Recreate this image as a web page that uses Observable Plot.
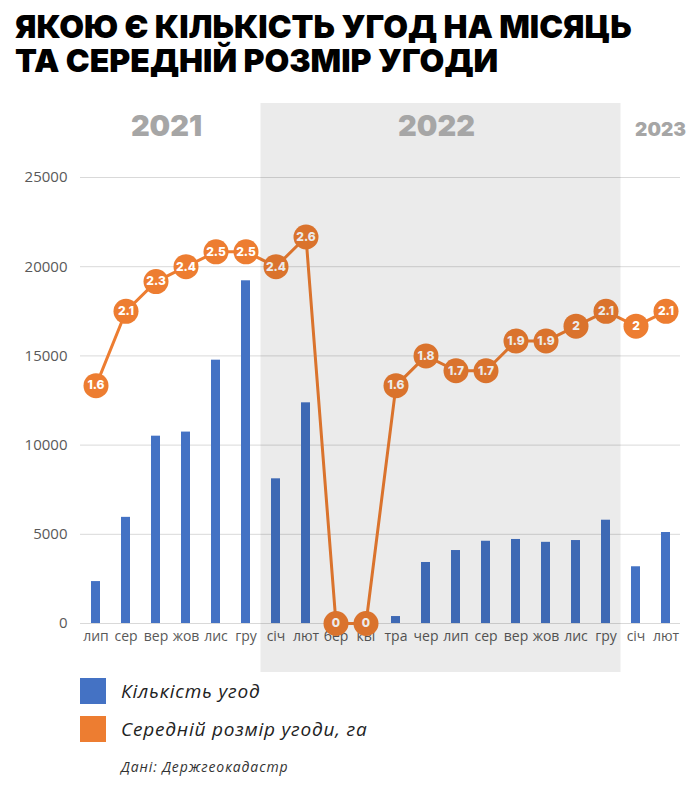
<!DOCTYPE html>
<html>
<head>
<meta charset="utf-8">
<script src="https://cdn.jsdelivr.net/npm/d3@7"></script>
<script src="https://cdn.jsdelivr.net/npm/@observablehq/plot@0.6"></script>
<style>
  body { margin: 0; background: #fff; width: 700px; height: 812px; position: relative; overflow: hidden; font-family: "Open Sans", sans-serif; }
  #title { position: absolute; left: 15px; top: 10px; margin: 0; font-family: Inter, sans-serif; font-weight: 900; font-size: 32px; line-height: 34px; color: #000; white-space: nowrap; }
  #chart { position: absolute; left: 0; top: 95px; }
  .key { position: absolute; left: 80px; display: flex; align-items: center; }
  .swatch { width: 26px; height: 26px; margin-right: 15px; }
  .key span { font-style: italic; font-size: 19px; letter-spacing: 0.8px; color: #222; }
  #source { position: absolute; left: 121px; top: 757px; font-style: italic; font-size: 14px; letter-spacing: 0.9px; color: #333; }
</style>
</head>
<body>
<h1 id="title">ЯКОЮ Є КІЛЬКІСТЬ УГОД НА МІСЯЦЬ<br>ТА СЕРЕДНІЙ РОЗМІР УГОДИ</h1>
<div id="chart"></div>
<div class="key" style="top:678px"><div class="swatch" style="background:#4472C4"></div><span>Кількість угод</span></div>
<div class="key" style="top:716px"><div class="swatch" style="background:#ED7D31"></div><span>Середній розмір угоди, га</span></div>
<div id="source">Дані: Держгеокадастр</div>
<script>
// Months from July 2021 to February 2023
const monthKeys = ["2021-07","2021-08","2021-09","2021-10","2021-11","2021-12",
  "2022-01","2022-02","2022-03","2022-04","2022-05","2022-06","2022-07","2022-08","2022-09","2022-10","2022-11","2022-12",
  "2023-01","2023-02"];
const monthLabels = ["лип","сер","вер","жов","лис","гру",
  "січ","лют","бер","кві","тра","чер","лип","сер","вер","жов","лис","гру",
  "січ","лют"];
// Number of deals per month
const dealCounts = [2350, 5950, 10500, 10730, 14760, 19210,
  8110, 12370, 0, 0, 390, 3420, 4090, 4610, 4710, 4550, 4650, 5790,
  3180, 5100];
// Average deal size, hectares
const avgSizeHa = [1.6, 2.1, 2.3, 2.4, 2.5, 2.5,
  2.4, 2.6, 0, 0, 1.6, 1.8, 1.7, 1.7, 1.9, 1.9, 2, 2.1,
  2, 2.1];
const years = ["2021", "2022", "2023"];
const yTicks = [0, 5000, 10000, 15000, 20000, 25000];

// The average size shares the left axis: 3 ha corresponds to 25000 deals
const sizeToCount = 25000 / 3;

const rows = monthKeys.map((key, i) => ({
  key,
  label: monthLabels[i],
  year: key.slice(0, 4),
  count: dealCounts[i],
  size: avgSizeHa[i],
  sizeY: avgSizeHa[i] * sizeToCount
}));
const labelOf = new Map(rows.map(d => [d.key, d.label]));

const ORANGE = "#ED7D31";
const BLUE = "#4472C4";

// Shaded band behind the months of 2022 (drawn as a translucent overlay)
function yearBand(index, scales, values, dimensions) {
  const x = scales.x;
  const keys = rows.filter(d => d.year === "2022").map(d => d.key);
  const step = x.step();
  const bw = x.bandwidth();
  const x1 = x(keys[0]) + bw / 2 - step / 2;
  const x2 = x(keys[keys.length - 1]) + bw / 2 + step / 2;
  const g = d3.create("svg:g");
  g.append("rect")
    .attr("x", x1).attr("width", x2 - x1)
    .attr("y", 8).attr("height", dimensions.height - 8 - 3)
    .attr("fill", "#000").attr("fill-opacity", 0.08);
  return g.node();
}

// Year headings centred over each year's months
function yearHeadings(index, scales, values, dimensions) {
  const x = scales.x;
  const bw = x.bandwidth();
  const g = d3.create("svg:g")
    .attr("font-family", "Inter, sans-serif")
    .attr("font-weight", 900)
    .attr("fill", "#a6a6a6")
    .attr("text-anchor", "middle");
  for (const yr of years) {
    const ks = rows.filter(d => d.year === yr).map(d => x(d.key) + bw / 2);
    const cx = d3.mean(ks);
    const small = ks.length < 3;
    g.append("text")
      .attr("x", cx + (small ? 10 : -4))
      .attr("y", 41)
      .attr("font-size", small ? 19 : 29)
      .text(yr);
  }
  return g.node();
}

const chart = Plot.plot({
  width: 700,
  height: 580,
  marginLeft: 80,
  marginRight: 20,
  marginTop: 82,
  marginBottom: 52,
  style: { fontFamily: "Open Sans, sans-serif", background: "transparent" },
  x: { domain: monthKeys, paddingInner: 0.7, paddingOuter: 0.35, axis: null },
  y: { domain: [0, 25000], axis: null },
  marks: [
    Plot.gridY(yTicks, { stroke: "#d9d9d9", strokeOpacity: 1 }),
    Plot.axisY(yTicks, { tickSize: 0, tickPadding: 13, fontSize: 15, fill: "#595959", label: null, tickFormat: d3.format("d") }),
    Plot.axisX({ tickSize: 0, tickPadding: 8, fontSize: 14, fill: "#595959", label: null, tickFormat: k => labelOf.get(k) }),
    Plot.barY(rows, { x: "key", y: "count", fill: BLUE }),
    Plot.line(rows, { x: "key", y: "sizeY", stroke: ORANGE, strokeWidth: 3 }),
    Plot.dot(rows, { x: "key", y: "sizeY", r: 12.5, fill: ORANGE }),
    Plot.text(rows, { x: "key", y: "sizeY", text: d => String(d.size), fill: "#fff", fontSize: 12, fontWeight: 800, fontFamily: "Inter, sans-serif" }),
    yearBand,
    yearHeadings
  ]
});

document.getElementById("chart").appendChild(chart);
</script>
</body>
</html>
